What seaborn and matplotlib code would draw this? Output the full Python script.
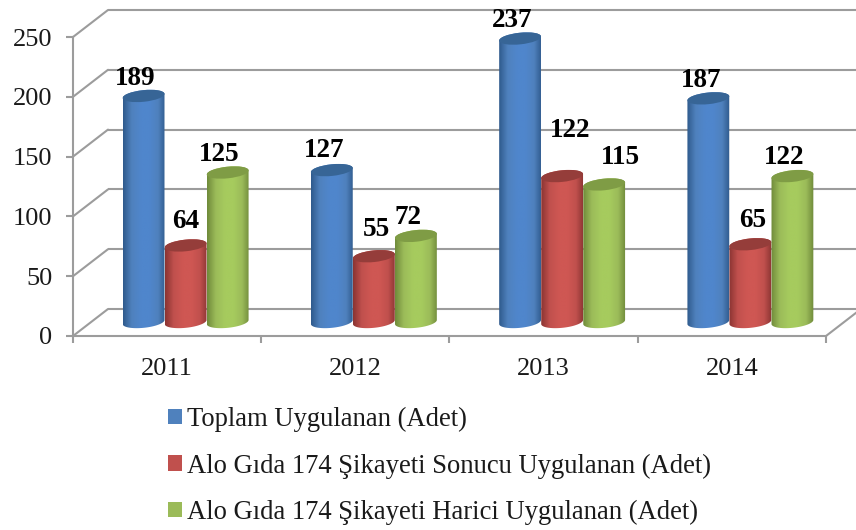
import numpy as np
import pandas as pd
import matplotlib
matplotlib.use("Agg")
import matplotlib.pyplot as plt
import seaborn as sns
from matplotlib.colors import LinearSegmentedColormap
from matplotlib.lines import Line2D
from matplotlib.patches import Ellipse, PathPatch
from matplotlib.path import Path
from matplotlib.ticker import FixedLocator
from matplotlib.transforms import Affine2D, IdentityTransform

years = ["2011", "2012", "2013", "2014"]
series_names = ["Toplam Uygulanan (Adet)",
                "Alo Gıda 174 Şikayeti Sonucu Uygulanan (Adet)",
                "Alo Gıda 174 Şikayeti Harici Uygulanan (Adet)"]
toplam = [189, 127, 237, 187]
sonucu = [64, 55, 122, 65]
harici = [125, 72, 115, 122]
y_ticks = [0, 50, 100, 150, 200, 250]

# label nudges in pixels (dx, dy above the top of the bar)
label_nudges = [
    [(-8, 20), (-8, 22), (-8, 21), (-7, 20)],
    [(0, 26.5), (3, 29), (8, 48.5), (2.5, 26)],
    [(-8, 20.5), (-8, 21), (16, 29.5), (-8.5, 21)],
]
palette = ["#4F81BD", "#C0504D", "#9BBB59"]
edge_cols = ["#2F5A8C", "#8A3432", "#6F8A3A"]
light_cols = ["#4F86CC", "#CF5753", "#A6CB5E"]
top_cols = ["#376596", "#953D3A", "#7F9C45"]

sns.set_theme(style="white")
plt.rcParams["font.family"] = ["Liberation Serif", "DejaVu Serif"]

W, H = 856, 530
fig = plt.figure(figsize=(W / 100, H / 100), dpi=100, facecolor="white")
ax = fig.add_axes([73 / W, (H - 336) / H, (826 - 73) / W, (336 - 37) / H])

df = pd.DataFrame({"Yıl": years, series_names[0]: toplam,
                   series_names[1]: sonucu, series_names[2]: harici})
long = df.melt(id_vars="Yıl", var_name="Seri", value_name="Adet")
sns.barplot(data=long, x="Yıl", y="Adet", hue="Seri", hue_order=series_names,
            palette=palette, saturation=1, width=0.67, gap=0, ax=ax,
            linewidth=0, errorbar=None)
ax.set_xlim(-0.5, 3.5)
ax.set_ylim(0, 250)
ax.set_xlabel("")
ax.set_ylabel("")
fig.canvas.draw()

grid_col = "#9C9C9C"
grid_lw = 1.5
bar_shift = Affine2D().translate(18.5, 14)
back_shift = Affine2D().translate(35, 27)
bar_trans = ax.transData + bar_shift
back_trans = ax.transData + back_shift

# back wall, side wall and floor lines
ax.hlines(y_ticks, -0.5, 3.5, colors=grid_col, lw=grid_lw, transform=back_trans,
          clip_on=False, zorder=1)
for v in y_ticks:
    p0 = ax.transData.transform((-0.5, v))
    p1 = back_shift.transform(p0)
    ax.add_line(Line2D([p0[0], p1[0]], [p0[1], p1[1]], color=grid_col, lw=grid_lw,
                       transform=IdentityTransform(), clip_on=False, zorder=1))
p0 = ax.transData.transform((3.5, 0))
p1 = back_shift.transform(p0)
ax.add_line(Line2D([p0[0], p1[0]], [p0[1], p1[1]], color=grid_col, lw=grid_lw,
                   transform=IdentityTransform(), clip_on=False, zorder=1))

tilt = np.deg2rad(6.0)


def ellipse_points(cx, cy, a, b, t):
    x = a * np.cos(t)
    y = b * np.sin(t)
    return np.column_stack([cx + x * np.cos(tilt) - y * np.sin(tilt),
                            cy + x * np.sin(tilt) + y * np.cos(tilt)])


for s, cont in enumerate(ax.containers):
    cmap = LinearSegmentedColormap.from_list(
        "c", [(0.0, edge_cols[s]), (0.2, palette[s]), (0.42, light_cols[s]),
              (0.62, light_cols[s]), (0.82, palette[s]), (1.0, edge_cols[s])])
    for k, bar in enumerate(cont):
        z = 3 + s + k * 0.01
        x, w, h = bar.get_x(), bar.get_width(), bar.get_height()
        bar.set_transform(bar_trans)
        bar.set_clip_on(False)
        bar.set_zorder(z)
        bar.set_alpha(0)
        (cxb, cyb) = bar_trans.transform((x + w / 2, 0))
        (cxt, cyt) = bar_trans.transform((x + w / 2, h))
        (xl, _) = bar_trans.transform((x, 0))
        (xr, _) = bar_trans.transform((x + w, 0))
        a = (xr - xl) / 2
        b = 5.8
        lower = ellipse_points(cxb, cyb, a, b, np.linspace(np.pi, 2 * np.pi, 40))
        upper = ellipse_points(cxt, cyt, a, b, np.linspace(0, np.pi, 40))
        pts = np.vstack([lower, upper, lower[:1]])
        clip = PathPatch(Path(pts, closed=True), transform=IdentityTransform(),
                         fc="none", ec="none")
        grad = np.linspace(0, 1, 128).reshape(1, -1)
        im = ax.imshow(grad, extent=(x, x + w, -15, h + 12), aspect="auto",
                       cmap=cmap, transform=bar_trans, zorder=z, interpolation="bilinear")
        im.set_clip_path(clip)
        im.set_clip_box(fig.bbox)
        ax.add_patch(Ellipse((cxt, cyt), 2 * a, 2 * b, angle=np.rad2deg(tilt),
                             transform=IdentityTransform(), fc=top_cols[s],
                             ec="none", clip_on=False, zorder=z + 0.001))
        dx, dy = label_nudges[s][k]
        ax.annotate(f"{int(h)}", xy=(cxt, cyt), xycoords=IdentityTransform(),
                    xytext=(dx * 0.72, (dy - 2.5) * 0.72), textcoords="offset points",
                    ha="center", va="center", fontsize=19.5, fontweight="bold",
                    color="black", zorder=20, annotation_clip=False)

ax.set_xlim(-0.5, 3.5)
ax.set_ylim(0, 250)
ax.set_aspect("auto")
ax.set_yticks(y_ticks)
ax.xaxis.set_minor_locator(FixedLocator([-0.5, 0.5, 1.5, 2.5, 3.5]))
ax.tick_params(axis="y", which="major", left=True, length=5, width=grid_lw, color=grid_col,
               labelsize=19, pad=10, labelcolor="#1a1a1a")
ax.tick_params(axis="x", which="major", bottom=False, labelsize=19, pad=10,
               labelcolor="#1a1a1a")
ax.tick_params(axis="x", which="minor", bottom=True, length=5, width=grid_lw, color=grid_col)
sns.despine(ax=ax, top=True, right=True)
for name in ("left", "bottom"):
    ax.spines[name].set_color(grid_col)
    ax.spines[name].set_linewidth(grid_lw)
    ax.spines[name].set_zorder(2)

sns.move_legend(ax, loc="upper left", bbox_to_anchor=(168 / W, (H - 407) / H),
                bbox_transform=fig.transFigure, title=None, frameon=False,
                fontsize=19.2, labelspacing=0.8, handlelength=0.52, handleheight=0.52,
                handletextpad=0.2, borderpad=0, borderaxespad=0)
for t in ax.get_legend().get_texts():
    t.set_color("#1a1a1a")

fig.savefig("out.png", dpi=100, facecolor="white")
